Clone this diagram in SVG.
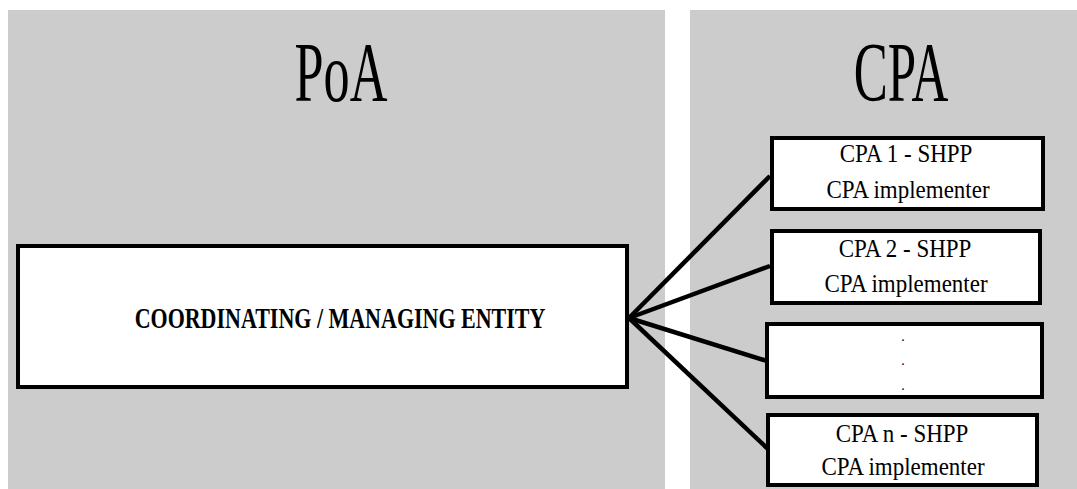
<svg xmlns="http://www.w3.org/2000/svg" width="1077" height="489" viewBox="0 0 1077 489">
<style>
.panel{fill:#cccccc}
.box{fill:#ffffff;stroke:#000000;stroke-width:4}
.title{font-family:"Liberation Serif",serif;font-size:60px;fill:#000;text-anchor:middle}
.lbl{font-family:"Liberation Serif",serif;font-size:23px;fill:#000;text-anchor:middle}
.dot{font-family:"Liberation Serif",serif;font-size:14px;fill:#000;text-anchor:middle}
.main{font-family:"Liberation Serif",serif;font-size:22px;font-weight:bold;fill:#000;text-anchor:middle}
.conn{stroke:#000;stroke-width:4.5;fill:none}
</style>
<rect width="1077" height="489" fill="#ffffff"/>
<g id="poa-panel">
<rect class="panel" x="8" y="10" width="657" height="479"/>
<text class="title" transform="translate(341 101) scale(0.87 1.42)">PoA</text>
</g>
<g id="cpa-panel">
<rect class="panel" x="690" y="10" width="387" height="479"/>
<text class="title" transform="translate(901 101) scale(0.85 1.42)">CPA</text>
</g>
<g id="connectors">
<line class="conn" x1="629" y1="318" x2="770" y2="176"/>
<line class="conn" x1="629" y1="318" x2="770" y2="266"/>
<line class="conn" x1="629" y1="318" x2="767" y2="361"/>
<line class="conn" x1="629" y1="318" x2="768" y2="449"/>
</g>
<g id="coordinating">
<rect class="box" x="18" y="246" width="609" height="141"/>
<text class="main" transform="translate(340 328) scale(1 1.3)">COORDINATING / MANAGING ENTITY</text>
</g>
<g id="cpa1">
<rect class="box" x="772" y="138" width="271" height="71"/>
<text class="lbl" transform="translate(906 162) scale(1 1.1)">CPA 1 - SHPP</text>
<text class="lbl" transform="translate(908 198) scale(1 1.1)">CPA implementer</text>
</g>
<g id="cpa2">
<rect class="box" x="772" y="231" width="268" height="72"/>
<text class="lbl" transform="translate(905 257) scale(1 1.1)">CPA 2 - SHPP</text>
<text class="lbl" transform="translate(906 292) scale(1 1.1)">CPA implementer</text>
</g>
<g id="cpa-dots">
<rect class="box" x="767" y="324" width="275" height="73"/>
<text class="dot" x="903" y="341">.</text>
<text class="dot" x="903" y="365">.</text>
<text class="dot" x="903" y="390">.</text>
</g>
<g id="cpan">
<rect class="box" x="768" y="415" width="269" height="70"/>
<text class="lbl" transform="translate(902 442) scale(1 1.1)">CPA n - SHPP</text>
<text class="lbl" transform="translate(903 475) scale(1 1.1)">CPA implementer</text>
</g>
</svg>
